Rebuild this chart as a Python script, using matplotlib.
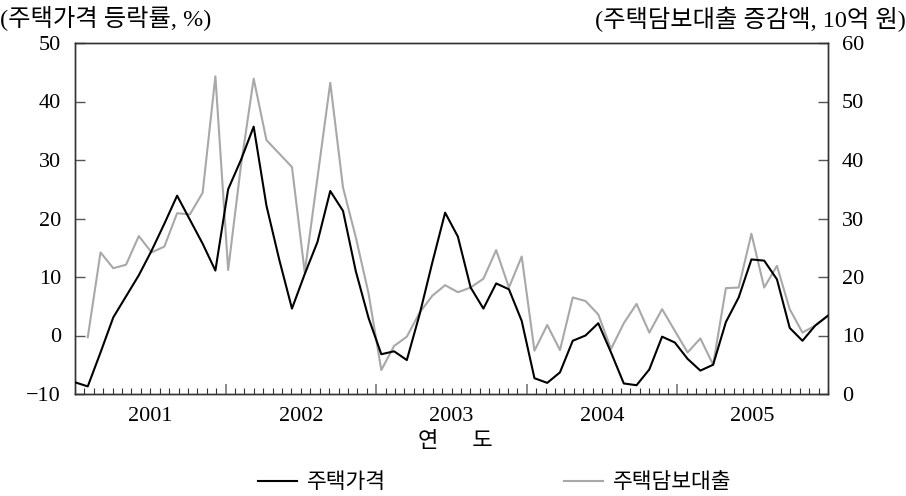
import numpy as np
import matplotlib
matplotlib.use("Agg")
import matplotlib.pyplot as plt
from matplotlib.lines import Line2D

plt.rcParams['font.family'] = ['Liberation Serif', 'Noto Sans CJK KR']
plt.rcParams['axes.unicode_minus'] = True

# monthly series, 2001.01 ~ 2005.12
years = ['2001', '2002', '2003', '2004', '2005']

# 주택가격 등락률 (%), left axis
house_price = [
    -8.0, -8.7, -2.9, 3.1, 6.7, 10.3, 14.5, 19.1, 23.9, 19.8, 15.7, 11.1,
    25.0, 30.0, 35.7, 22.2, 13.0, 4.6, 10.5, 16.0, 24.7, 21.3, 11.0, 3.0,
    -3.2, -2.7, -4.2, 3.6, 12.5, 21.0, 16.9, 8.2, 4.6, 8.9, 7.9, 2.5,
    -7.3, -8.1, -6.3, -0.9, 0.0, 2.1, -2.9, -8.2, -8.5, -5.8, -0.2, -1.2,
    -4.0, -6.0, -5.0, 2.3, 6.5, 13.0, 12.8, 9.6, 1.3, -0.9, 1.7, 3.4,
]

# 주택담보대출 증감액 (10억 원), right axis
mortgage = [
    np.nan, 9.7, 24.2, 21.5, 22.1, 27.0, 24.2, 25.2, 30.9, 30.7, 34.4, 54.3,
    21.2, 39.0, 53.9, 43.4, 41.1, 38.8, 20.8, 37.0, 53.2, 35.3, 26.8, 17.2,
    4.1, 8.2, 9.8, 13.9, 16.8, 18.6, 17.4, 18.2, 19.7, 24.6, 18.2, 23.5,
    7.4, 11.8, 7.5, 16.5, 15.9, 13.6, 7.7, 12.1, 15.4, 10.5, 14.5, 10.8,
    7.1, 9.5, 5.0, 18.1, 18.2, 27.4, 18.2, 21.9, 14.5, 10.5, 11.7, 13.4,
]

months = np.arange(len(house_price))
n_last = months[-1]

fig = plt.figure(figsize=(9.06, 4.96), dpi=100)
ax = fig.add_axes([75 / 906, 1 - 394 / 496, 753 / 906, 351 / 496])
ax2 = ax.twinx()

ax.plot(months, house_price, color='black', lw=1.5, zorder=3)
ax2.plot(months, mortgage, color='#a8a8a8', lw=1.5, zorder=2)
ax.set_zorder(ax2.get_zorder() + 1)
ax.patch.set_visible(False)

ax.set_xlim(0, n_last)
ax.set_ylim(-10, 50)
ax2.set_ylim(0, 60)
ax.set_yticks(np.arange(-10, 51, 10))
ax2.set_yticks(np.arange(0, 61, 10))

# x axis: 16 small ticks per year block, year names centred in each block
edges = np.linspace(0, n_last, len(years) + 1)
ax.set_xticks(edges[1:-1])
ax.set_xticks(np.linspace(0, n_last, 16 * len(years) + 1), minor=True)
ax.set_xticklabels([])
for i, y in enumerate(years):
    ax.text((edges[i] + edges[i + 1]) / 2, -0.065, y, transform=ax.get_xaxis_transform(),
            ha='center', va='center', fontsize=16)

spine_col = '#333333'
for a in (ax, ax2):
    for s in a.spines.values():
        s.set_color(spine_col)
        s.set_linewidth(1.0)
ax.tick_params(axis='x', which='major', direction='in', length=7, width=1.2,
               color='#777777', bottom=True, top=False)
ax.tick_params(axis='x', which='minor', direction='in', length=4.5, width=0.8,
               color='#333333', top=False)
ax.tick_params(axis='y', direction='in', length=7, width=1.0, color='#555555',
               labelsize=16, pad=10)
ax2.tick_params(axis='y', direction='in', length=7, width=1.0, color='#555555',
                labelsize=16, pad=10)

fig.text(0.0, 1 - 19 / 496, '(주택가격 등락률, %)', ha='left', va='center', fontsize=17.5)
fig.text(1.0, 1 - 19 / 496, '(주택담보대출 증감액, 10억 원)', ha='right', va='center', fontsize=17.5)
fig.text(0.503, 1 - 442 / 496, '연      도', ha='center', va='center', fontsize=16)

handles = [Line2D([], [], color='black', lw=1.5),
           Line2D([], [], color='#a8a8a8', lw=1.5)]
fig.legend(handles, ['주택가격', '주택담보대출'], loc='center', ncol=2,
           bbox_to_anchor=(0.546, 1 - 483 / 496), frameon=False, fontsize=15.5,
           handlelength=1.8, columnspacing=8.3, handletextpad=0.45)

fig.savefig('out.png', dpi=100)
